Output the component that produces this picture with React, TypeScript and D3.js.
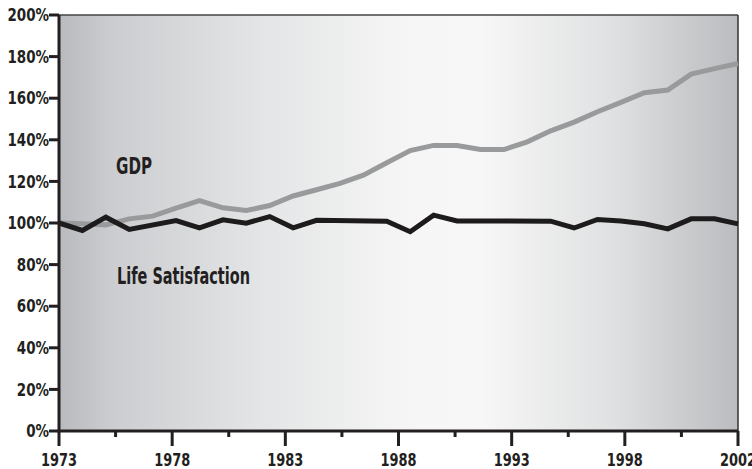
import React from 'react';
import * as d3 from 'd3';

// GDP vs life satisfaction, indexed to 1973 = 100%
const gdpYears = [1973, 1974, 1975, 1976, 1977, 1978, 1979, 1980, 1981, 1982, 1983, 1984, 1985, 1986, 1987,
  1988, 1989, 1990, 1991, 1992, 1993, 1994, 1995, 1996, 1997, 1998, 1999, 2000, 2001, 2002];
const gdpValues = [100, 99.6, 99.1, 102, 103.3, 107.2, 110.8, 107.3, 106, 108.4, 113, 116, 119, 123, 129,
  134.8, 137.3, 137.3, 135.3, 135.3, 139, 144.3, 148.5, 153.5, 158, 162.6, 163.9, 171.6, 174.2, 176.7];

const lifeYears = [1973, 1974, 1975, 1976, 1978, 1979, 1980, 1981, 1982, 1983, 1984, 1987,
  1988, 1989, 1990, 1994, 1995, 1996, 1997, 1998, 1999, 2000, 2001, 2002];
const lifeValues = [100, 96.4, 102.8, 96.9, 101.2, 97.7, 101.5, 99.9, 103.1, 97.7, 101.3, 100.9,
  95.8, 103.8, 101, 100.9, 97.6, 101.7, 101, 99.6, 97.2, 102, 102, 99.6];

const yTicks = [0, 20, 40, 60, 80, 100, 120, 140, 160, 180, 200];
const xTickLabels = ['1973', '1978', '1983', '1988', '1993', '1998', '2002'];

const seriesLabels = { gdp: 'GDP', life: 'Life Satisfaction' };

const W = 752;
const H = 469;
const margin = { top: 15, right: 14, bottom: 38, left: 59 };
const FONT = "'DejaVu Sans Condensed', 'Liberation Sans Narrow', sans-serif";
const INK = '#231f20';

export default function App() {
  const iw = W - margin.left - margin.right;
  const ih = H - margin.top - margin.bottom;

  const x = d3.scaleLinear().domain([1973, 2002]).range([0, iw]);
  const y = d3.scaleLinear().domain([0, 200]).range([ih, 0]);
  // tick marks are spaced evenly, independent of the data years
  const xt = d3.scalePoint<string>().domain(xTickLabels).range([0, iw]);
  const step = xt.step();

  const line = d3.line<[number, number]>()
    .x(d => x(d[0]))
    .y(d => y(d[1]));

  const gdpPath = line(gdpYears.map((yr, i) => [yr, gdpValues[i]]) as [number, number][]);
  const lifePath = line(lifeYears.map((yr, i) => [yr, lifeValues[i]]) as [number, number][]);

  const ySx = 0.88; // squeeze tick text to look condensed
  const xSx = 0.8;

  return (
    <svg width={W} height={H} style={{ position: 'absolute', left: 0, top: 0, background: '#fff' }}>
      <defs>
        <linearGradient id="bg" x1="0" x2="1" y1="0" y2="0">
          <stop offset="0" stopColor="#b9babd" />
          <stop offset="0.08" stopColor="#cccdd0" />
          <stop offset="0.3" stopColor="#e4e5e6" />
          <stop offset="0.52" stopColor="#f6f6f6" />
          <stop offset="0.62" stopColor="#f7f7f7" />
          <stop offset="0.82" stopColor="#dfe0e1" />
          <stop offset="1" stopColor="#bbbcbf" />
        </linearGradient>
      </defs>
      <g transform={`translate(${margin.left},${margin.top})`}>
        <rect x={0} y={0} width={iw} height={ih} fill="url(#bg)" />

        {/* top and right frame */}
        <line x1={0} x2={iw} y1={0} y2={0} stroke="#444" strokeWidth={1.5} />
        <line x1={iw} x2={iw} y1={0} y2={ih} stroke="#333" strokeWidth={1.5} />

        <path d={gdpPath ?? ''} fill="none" stroke="#999a9c" strokeWidth={5} />
        <path d={lifePath ?? ''} fill="none" stroke="#1e1b1c" strokeWidth={5} />

        <text x={57} y={y(123.6)} fontFamily={FONT} fontWeight={700} fontSize={23} fill={INK}
          textLength={36} lengthAdjust="spacingAndGlyphs">{seriesLabels.gdp}</text>
        <text x={58} y={y(70.9)} fontFamily={FONT} fontWeight={700} fontSize={23} fill={INK}
          textLength={133} lengthAdjust="spacingAndGlyphs">{seriesLabels.life}</text>

        {/* y axis */}
        <line x1={0} x2={0} y1={0} y2={ih + 1.5} stroke={INK} strokeWidth={3} />
        {yTicks.map(t => (
          <g key={t} transform={`translate(0,${y(t)})`}>
            <line x1={-10} x2={0} stroke={INK} strokeWidth={3} />
            <text x={-10 / ySx} dy="0.36em" transform={`scale(${ySx},1)`} textAnchor="end"
              fontFamily={FONT} fontWeight={700} fontSize={17} fill={INK}>{`${t}%`}</text>
          </g>
        ))}

        {/* x axis */}
        <line x1={-1.5} x2={iw} y1={ih} y2={ih} stroke={INK} strokeWidth={3} />
        {xTickLabels.map((lab, i) => (
          <g key={lab} transform={`translate(${xt(lab)},${ih})`}>
            <line y1={0} y2={15} stroke={INK} strokeWidth={3} />
            <text y={35} transform={`scale(${xSx},1)`} textAnchor="middle"
              fontFamily={FONT} fontWeight={700} fontSize={18} fill={INK}>{lab}</text>
            {i < xTickLabels.length - 1 && (
              <line x1={step / 2} x2={step / 2} y1={0} y2={6} stroke={INK} strokeWidth={3} />
            )}
          </g>
        ))}
      </g>
    </svg>
  );
}
